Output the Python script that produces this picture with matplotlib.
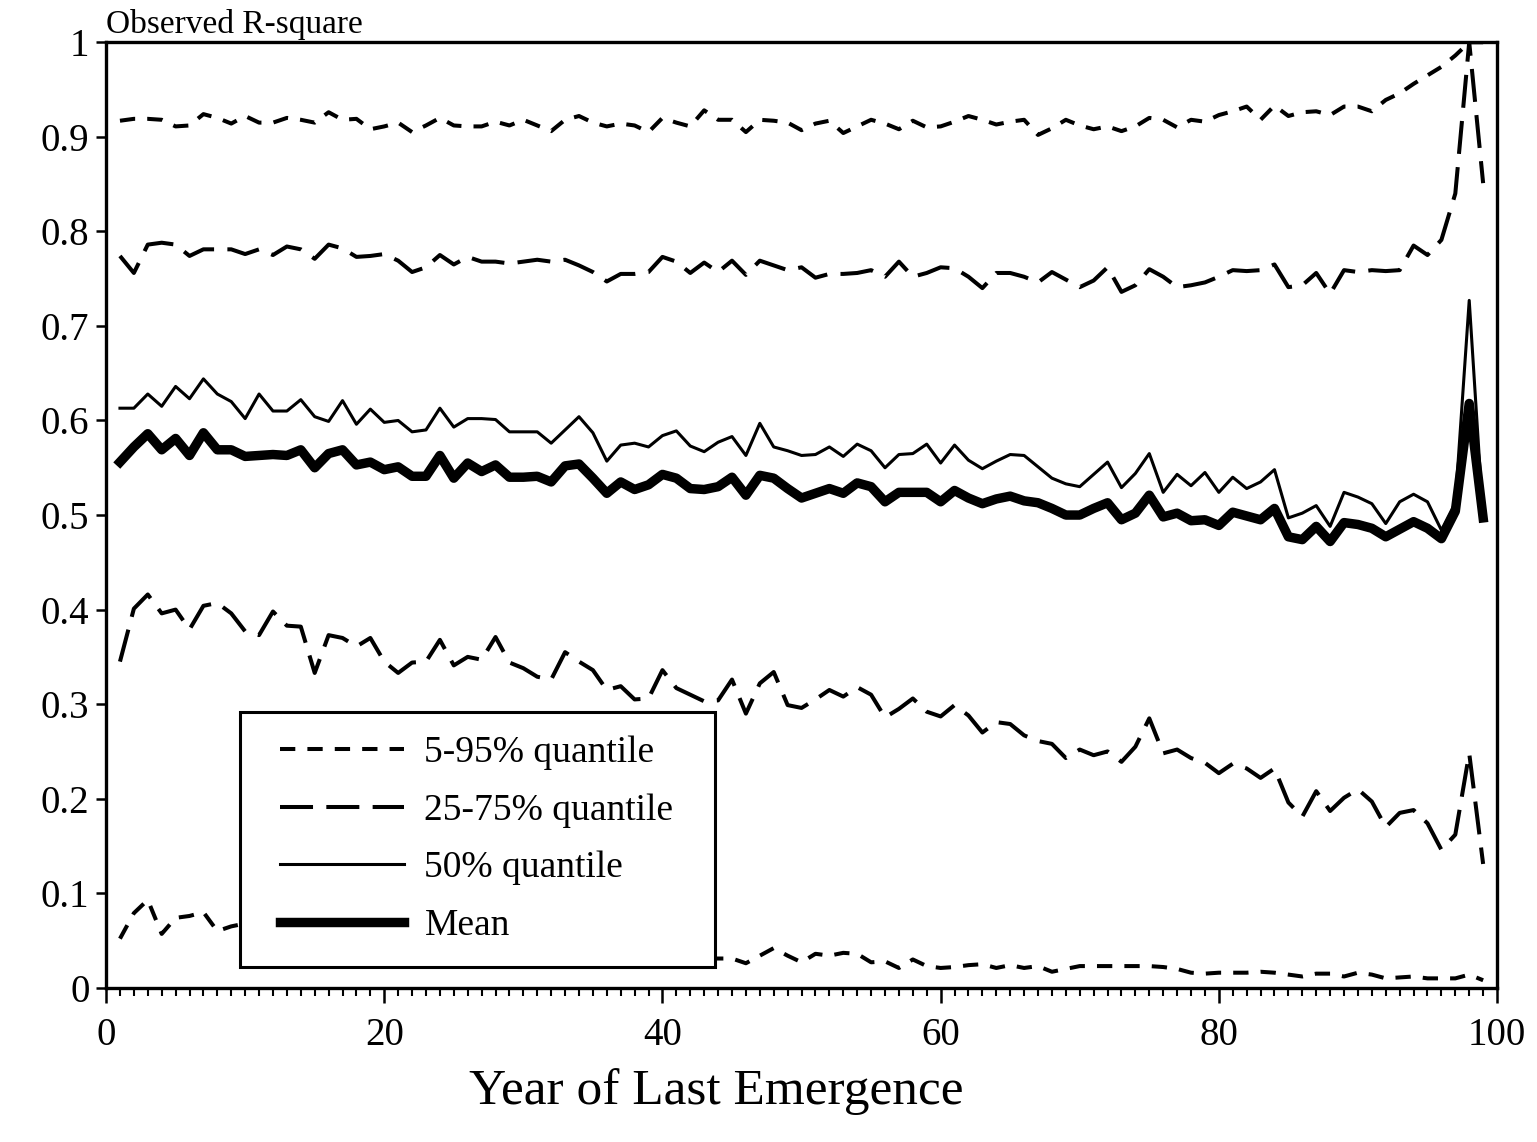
import numpy as np
import matplotlib
matplotlib.use("Agg")
import matplotlib.pyplot as plt
from matplotlib.patches import Rectangle
from matplotlib.ticker import MultipleLocator

plt.rcParams['font.family'] = ['Liberation Serif', 'DejaVu Serif']

# year of last emergence, 1..99
years = list(range(1, 100))

q95 = [0.917, 0.919, 0.919, 0.918, 0.911, 0.912, 0.924, 0.920, 0.914, 0.922,
       0.915, 0.915, 0.920, 0.918, 0.915, 0.926, 0.918, 0.919, 0.908, 0.911,
       0.915, 0.905, 0.912, 0.920, 0.912, 0.911, 0.911, 0.916, 0.912, 0.918,
       0.912, 0.906, 0.918, 0.922, 0.915, 0.911, 0.914, 0.912, 0.905, 0.920,
       0.915, 0.911, 0.928, 0.918, 0.918, 0.905, 0.918, 0.917, 0.915, 0.907,
       0.914, 0.917, 0.904, 0.911, 0.918, 0.914, 0.908, 0.917, 0.910, 0.911,
       0.916, 0.922, 0.918, 0.913, 0.916, 0.918, 0.902, 0.909, 0.918, 0.912,
       0.908, 0.911, 0.906, 0.911, 0.920, 0.918, 0.910, 0.918, 0.916, 0.923,
       0.927, 0.932, 0.918, 0.933, 0.922, 0.926, 0.927, 0.923, 0.932, 0.932,
       0.927, 0.939, 0.946, 0.956, 0.965, 0.974, 0.986, 1.000, 1.000]

q75 = [0.774, 0.756, 0.786, 0.788, 0.786, 0.774, 0.781, 0.781, 0.781, 0.776,
       0.781, 0.775, 0.784, 0.781, 0.771, 0.786, 0.782, 0.773, 0.774, 0.776,
       0.769, 0.757, 0.762, 0.775, 0.765, 0.773, 0.768, 0.768, 0.766, 0.768,
       0.770, 0.768, 0.770, 0.764, 0.757, 0.747, 0.755, 0.755, 0.757, 0.773,
       0.768, 0.756, 0.767, 0.757, 0.769, 0.754, 0.769, 0.764, 0.759, 0.762,
       0.751, 0.755, 0.755, 0.756, 0.759, 0.752, 0.768, 0.752, 0.756, 0.762,
       0.761, 0.752, 0.740, 0.756, 0.756, 0.752, 0.746, 0.757, 0.749, 0.741,
       0.748, 0.762, 0.736, 0.743, 0.760, 0.752, 0.741, 0.743, 0.746, 0.752,
       0.759, 0.758, 0.759, 0.765, 0.741, 0.743, 0.756, 0.734, 0.759, 0.757,
       0.759, 0.758, 0.759, 0.785, 0.775, 0.791, 0.840, 1.000, 0.851]

q50 = [0.613, 0.613, 0.628, 0.615, 0.636, 0.623, 0.644, 0.628, 0.620, 0.602,
       0.628, 0.610, 0.610, 0.622, 0.604, 0.599, 0.621, 0.596, 0.612, 0.598,
       0.600, 0.588, 0.590, 0.613, 0.593, 0.602, 0.602, 0.601, 0.588, 0.588,
       0.588, 0.576, 0.590, 0.604, 0.587, 0.557, 0.574, 0.576, 0.572, 0.584,
       0.589, 0.573, 0.567, 0.577, 0.583, 0.563, 0.597, 0.572, 0.568, 0.563,
       0.564, 0.572, 0.562, 0.575, 0.568, 0.550, 0.564, 0.565, 0.575, 0.555,
       0.574, 0.558, 0.549, 0.557, 0.564, 0.563, 0.551, 0.539, 0.533, 0.530,
       0.543, 0.556, 0.529, 0.544, 0.565, 0.524, 0.543, 0.531, 0.545, 0.524,
       0.540, 0.528, 0.535, 0.548, 0.497, 0.502, 0.510, 0.488, 0.524, 0.519,
       0.512, 0.491, 0.514, 0.522, 0.514, 0.484, 0.513, 0.727, 0.497]

mean = [0.556, 0.572, 0.586, 0.569, 0.581, 0.563, 0.587, 0.569, 0.569, 0.562,
        0.563, 0.564, 0.563, 0.569, 0.550, 0.565, 0.569, 0.553, 0.556, 0.548,
        0.551, 0.541, 0.541, 0.563, 0.539, 0.555, 0.546, 0.553, 0.540, 0.540,
        0.541, 0.535, 0.552, 0.554, 0.539, 0.523, 0.535, 0.527, 0.532, 0.543,
        0.539, 0.528, 0.527, 0.530, 0.540, 0.521, 0.542, 0.539, 0.528, 0.518,
        0.523, 0.528, 0.523, 0.534, 0.530, 0.514, 0.524, 0.524, 0.524, 0.514,
        0.526, 0.518, 0.512, 0.517, 0.520, 0.515, 0.513, 0.507, 0.500, 0.500,
        0.507, 0.513, 0.495, 0.502, 0.521, 0.498, 0.502, 0.494, 0.495, 0.489,
        0.503, 0.499, 0.495, 0.507, 0.477, 0.474, 0.488, 0.472, 0.492, 0.490,
        0.486, 0.477, 0.485, 0.493, 0.486, 0.475, 0.504, 0.618, 0.497]

q25 = [0.345, 0.401, 0.416, 0.396, 0.400, 0.379, 0.404, 0.407, 0.396, 0.377,
       0.373, 0.398, 0.383, 0.382, 0.333, 0.373, 0.370, 0.361, 0.370, 0.345,
       0.333, 0.344, 0.345, 0.368, 0.341, 0.350, 0.347, 0.371, 0.344, 0.338,
       0.329, 0.326, 0.355, 0.345, 0.336, 0.315, 0.319, 0.305, 0.306, 0.336,
       0.317, 0.310, 0.303, 0.304, 0.326, 0.290, 0.322, 0.334, 0.299, 0.296,
       0.305, 0.315, 0.308, 0.318, 0.310, 0.286, 0.295, 0.306, 0.292, 0.287,
       0.299, 0.288, 0.270, 0.281, 0.279, 0.267, 0.261, 0.258, 0.243, 0.252,
       0.246, 0.250, 0.239, 0.255, 0.285, 0.248, 0.252, 0.243, 0.238, 0.227,
       0.237, 0.232, 0.222, 0.232, 0.196, 0.181, 0.208, 0.187, 0.201, 0.210,
       0.197, 0.170, 0.185, 0.188, 0.174, 0.146, 0.162, 0.248, 0.131]

# values 10-43 sit behind the legend in the original, rough guesses
q05 = [0.052, 0.079, 0.093, 0.057, 0.074, 0.076, 0.080, 0.060, 0.065, 0.068,
       0.062, 0.058, 0.060, 0.055, 0.052, 0.054, 0.050, 0.048, 0.050, 0.046,
       0.045, 0.047, 0.043, 0.044, 0.041, 0.042, 0.040, 0.038, 0.040, 0.037,
       0.036, 0.038, 0.035, 0.034, 0.036, 0.033, 0.034, 0.032, 0.033, 0.031,
       0.032, 0.030, 0.031, 0.031, 0.031, 0.026, 0.034, 0.042, 0.034, 0.027,
       0.036, 0.034, 0.037, 0.036, 0.027, 0.028, 0.021, 0.030, 0.023, 0.021,
       0.022, 0.024, 0.025, 0.021, 0.024, 0.021, 0.023, 0.017, 0.020, 0.023,
       0.023, 0.023, 0.023, 0.023, 0.023, 0.022, 0.020, 0.016, 0.015, 0.016,
       0.016, 0.016, 0.017, 0.016, 0.014, 0.012, 0.015, 0.015, 0.012, 0.016,
       0.014, 0.010, 0.011, 0.012, 0.010, 0.010, 0.010, 0.014, 0.008]

fig = plt.figure(figsize=(15.37, 11.42), dpi=100)
ax = fig.add_axes([0.069, 0.135, 0.905, 0.828])

short_dash = (0, (3.8, 3.0))
long_dash = (0, (8.2, 3.3))

ax.plot(years, q95, color='black', lw=2.9, ls=short_dash, label='5-95% quantile')
ax.plot(years, q75, color='black', lw=2.9, ls=long_dash, label='25-75% quantile')
ax.plot(years, q50, color='black', lw=2.2, label='50% quantile')
ax.plot(years, mean, color='black', lw=6.8, label='Mean')
ax.plot(years, q25, color='black', lw=2.9, ls=long_dash)
ax.plot(years, q05, color='black', lw=2.9, ls=short_dash)

ax.set_xlim(0, 100)
ax.set_ylim(0, 1)
ax.xaxis.set_major_locator(MultipleLocator(20))
ax.xaxis.set_minor_locator(MultipleLocator(1))
ax.set_yticks(np.arange(0, 1.01, 0.1))
ax.set_yticklabels(['0'] + ['%.1f' % v for v in np.arange(0.1, 0.95, 0.1)] + ['1'])

for sp in ax.spines.values():
    sp.set_linewidth(2.4)
ax.tick_params(axis='both', which='major', direction='out', width=1.8, labelsize=28)
ax.tick_params(axis='x', which='major', length=11, pad=10)
ax.tick_params(axis='x', which='minor', direction='out', length=6, width=1.5)
ax.tick_params(axis='y', which='major', length=7, pad=5)

ax.text(0.439, -0.085, 'Year of Last Emergence', transform=ax.transAxes,
        ha='center', va='top', fontsize=37)
ax.text(0.0, 1.002, 'Observed R-square', transform=ax.transAxes,
        ha='left', va='bottom', fontsize=24)

# legend box drawn separately so its padding can be wider than tall
box = Rectangle((0.0963, 0.022), 0.3415, 0.2696, transform=ax.transAxes,
                facecolor='white', edgecolor='black', lw=2.2, zorder=4.5)
ax.add_patch(box)
leg = ax.legend(loc='center left', bbox_to_anchor=(0.1251, 0.157),
                borderaxespad=0, borderpad=0, fontsize=27, frameon=False,
                handlelength=3.3, labelspacing=0.62, handletextpad=0.55)
leg.set_zorder(5)

fig.savefig('out.png', dpi=100)
